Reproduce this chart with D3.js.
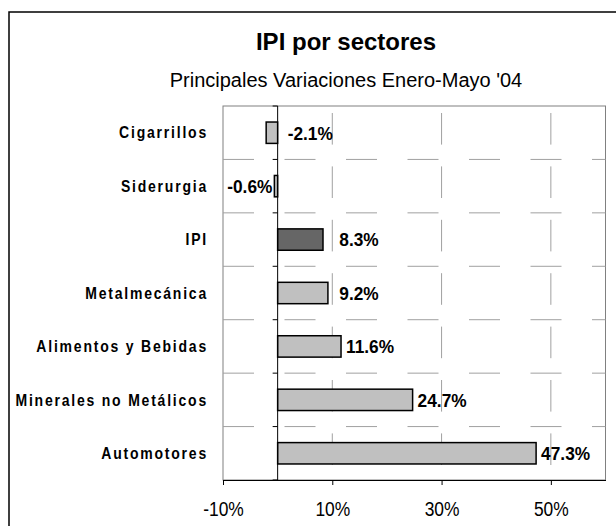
<!DOCTYPE html>
<html><head><meta charset="utf-8">
<script src="https://cdn.jsdelivr.net/npm/d3@7"></script>
<style>
html,body{margin:0;padding:0;background:#fff;}
svg{display:block;font-family:"Liberation Sans",Arial,sans-serif;}
</style></head>
<body>
<script>
const categories = ["Cigarrillos","Siderurgia","IPI","Metalmecánica","Alimentos y Bebidas","Minerales no Metálicos","Automotores"];
const values = [-2.1,-0.6,8.3,9.2,11.6,24.7,47.3];
const xTicks = [-10,10,30,50];
const xDomain = [-10,60];
const titleText = "IPI por sectores";
const subtitleText = "Principales Variaciones Enero-Mayo '04";
const highlighted = ["IPI"];
const labelsBeforeBar = ["Siderurgia"];

const W = 616, H = 526;
const svg = d3.select("body").append("svg").attr("width",W).attr("height",H);
const pct = v => v.toFixed(1) + "%";

// outer chart border (cropped at right/bottom)
svg.append("rect").attr("x",9).attr("y",12).attr("width",800).attr("height",700)
  .attr("fill","none").attr("stroke","#000").attr("stroke-width",1.5);

svg.append("text").attr("x",346).attr("y",50).attr("text-anchor","middle")
  .attr("font-size",24).attr("font-weight","bold").text(titleText);
svg.append("text").attr("x",346).attr("y",87).attr("text-anchor","middle")
  .attr("font-size",20).text(subtitleText);

const plot = {l:223, r:605.5, t:106, b:480};
const x = d3.scaleLinear().domain(xDomain).range([plot.l, plot.r]);
const y = d3.scaleBand().domain(categories).range([plot.t, plot.b]).paddingInner(0.6).paddingOuter(0.3);
const step = y.step();
const boundaries = d3.range(categories.length+1).map(i => plot.t + i*step);

// plot area border
svg.append("rect").attr("x",plot.l).attr("y",plot.t).attr("width",plot.r-plot.l).attr("height",plot.b-plot.t)
  .attr("fill","none").attr("stroke","#808080").attr("stroke-width",1);

// horizontal dashed gridlines
svg.append("g").selectAll("line").data(boundaries.slice(1,-1)).join("line")
  .attr("x1",plot.l).attr("x2",plot.r).attr("y1",d=>d).attr("y2",d=>d)
  .attr("stroke","#a0a0a0").attr("stroke-width",1).attr("stroke-dasharray","31,30.5");

// vertical dashed gridlines
svg.append("g").selectAll("line").data(xTicks.filter(t=>t>xDomain[0])).join("line")
  .attr("x1",d=>x(d)).attr("x2",d=>x(d)).attr("y1",plot.t).attr("y2",plot.b)
  .attr("stroke","#a0a0a0").attr("stroke-width",1)
  .attr("stroke-dasharray","31.6,21.8").attr("stroke-dashoffset",46.4);

// bars
svg.append("g").selectAll("rect").data(categories).join("rect")
  .attr("x",(d,i)=>x(Math.min(0,values[i])))
  .attr("y",d=>y(d))
  .attr("width",(d,i)=>Math.abs(x(values[i])-x(0)))
  .attr("height",y.bandwidth())
  .attr("fill",d=>highlighted.includes(d)?"#666666":"#c0c0c0")
  .attr("stroke","#000").attr("stroke-width",1.5);

// zero axis with boundary ticks
const zx = x(0);
svg.append("line").attr("x1",zx).attr("x2",zx).attr("y1",plot.t).attr("y2",plot.b)
  .attr("stroke","#000").attr("stroke-width",1);
svg.append("g").selectAll("line").data(boundaries).join("line")
  .attr("x1",zx-5).attr("x2",zx).attr("y1",d=>d).attr("y2",d=>d)
  .attr("stroke","#000").attr("stroke-width",1);

// bottom axis
const xAxis = svg.append("g").attr("transform",`translate(0,${plot.b})`)
  .call(d3.axisBottom(x).tickValues(xTicks).tickFormat(d=>d+"%").tickSize(5).tickSizeOuter(0).tickPadding(18));
xAxis.select(".domain").attr("stroke","#000");
xAxis.selectAll(".tick line").attr("stroke","#000");
xAxis.selectAll(".tick text")
  .attr("font-size",20).attr("font-family","Liberation Sans, Arial, sans-serif").attr("fill","#000")
  .attr("y",null).attr("dy",null)
  .attr("transform","translate(0,36) scale(0.87,1)");

// category labels
svg.append("g").selectAll("text").data(categories).join("text")
  .attr("transform",d=>`translate(208,${y(d)+y.bandwidth()/2}) scale(0.875,1)`)
  .attr("dy","0.36em")
  .attr("text-anchor","end").attr("font-size",16).attr("font-weight","bold")
  .attr("letter-spacing",2.05).text(d=>d);

// value labels
const gridXs = xTicks.map(t=>x(t));
function labelPos(d,i){
  const v = values[i];
  if (v < 0) {
    if (labelsBeforeBar.includes(d)) return {x:x(v)-2, anchor:"end"};
    return {x:zx+10, anchor:"start"};
  }
  let lx = x(v)+5;
  const g = gridXs.find(gx => gx >= lx-1 && gx-lx < 8);
  if (g !== undefined) lx = g+7;
  return {x:lx, anchor:"start"};
}
svg.append("g").selectAll("text").data(categories).join("text")
  .attr("transform",(d,i)=>`translate(${labelPos(d,i).x},${y(d)+y.bandwidth()/2}) scale(0.91,1)`)
  .attr("text-anchor",(d,i)=>labelPos(d,i).anchor)
  .attr("dy","0.36em")
  .attr("font-size",19).attr("font-weight","bold")
  .text((d,i)=>pct(values[i]));
</script>
</body></html>
